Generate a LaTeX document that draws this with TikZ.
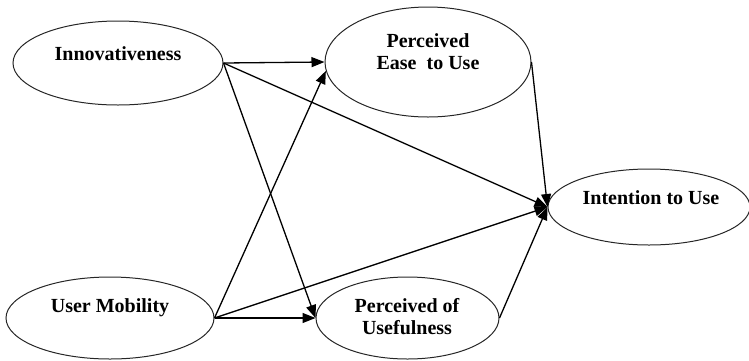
\documentclass[tikz,border=0pt]{standalone}
\usepackage{fontspec}
\setmainfont{Liberation Serif}
\usetikzlibrary{shapes.geometric,arrows.meta}
\begin{document}
\begin{tikzpicture}[x=1pt,y=-1pt,
  construct/.style={ellipse,draw=black!85,line width=1pt,inner sep=0pt},
  lbl/.style={font=\fontsize{20}{22}\selectfont\bfseries,align=center,inner sep=0pt},
  path/.style={line width=1.3pt,draw=black,-{Triangle[length=13pt,width=10pt]}}]
  \useasboundingbox (0,0) rectangle (749,360);

  % constructs
  \node[construct,minimum width=210pt,minimum height=84pt]  (inn) at (118,63)  {};
  \node[construct,minimum width=206pt,minimum height=110pt] (peu) at (428,62)  {};
  \node[construct,minimum width=202pt,minimum height=76pt]  (int) at (649,207) {};
  \node[construct,minimum width=208pt,minimum height=82pt]  (um)  at (110,318) {};
  \node[construct,minimum width=183pt,minimum height=82pt]  (pu)  at (407.5,318) {};

  % construct names
  \node[lbl] (innT) at (118,54)    {Innovativeness};
  \node[lbl] (peuT) at (428,52)    {Perceived\\Ease~ to Use};
  \node[lbl] (intT) at (651,198)   {Intention to Use};
  \node[lbl] (umT)  at (110,308)   {User Mobility};
  \node[lbl] (puT)  at (407,316.5) {Perceived of\\Usefulness};

  % hypothesised paths
  \draw[path] (inn.east) -- (peu.west);
  \draw[path] (inn.east) -- (int.west);
  \draw[path] (inn.east) -- (pu.west);
  \draw[path] (um.east)  -- (peu.185);
  \draw[path] (um.east)  -- (int.west);
  \draw[path] (um.east)  -- (pu.west);
  \draw[path] (peu.east) -- (int.west);
  \draw[path] (pu.east)  -- (int.west);
\end{tikzpicture}
\end{document}
